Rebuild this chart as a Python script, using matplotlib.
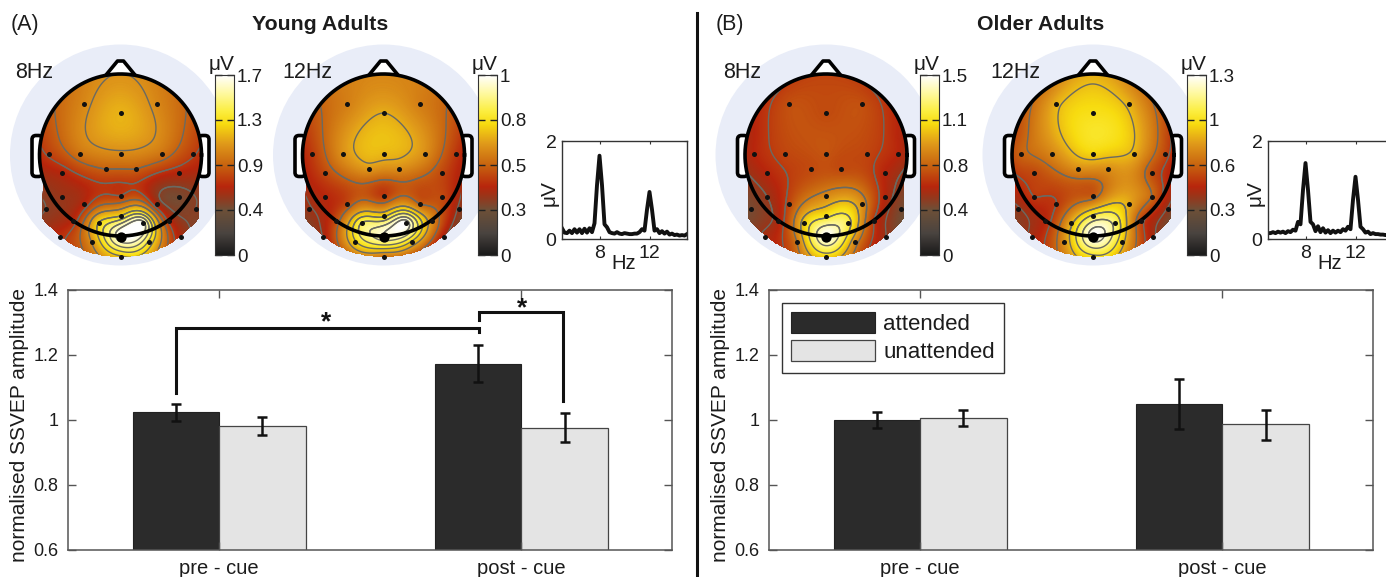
import numpy as np
import matplotlib
matplotlib.use('Agg')
import matplotlib.pyplot as plt
from matplotlib.colors import LinearSegmentedColormap
from matplotlib.patches import Circle, FancyBboxPatch, Polygon, PathPatch
from matplotlib.path import Path

plt.rcParams['font.family'] = ['Liberation Sans', 'DejaVu Sans']
W, H = 1386, 577
DARK = '#2b2b2b'
LIGHT = '#e4e4e4'
SPINE = '#555555'
TEXT = '#1c1c1c'

# ---- bar data
groups = ['pre - cue', 'post - cue']
series = ['attended', 'unattended']
young_att = [1.024, 1.172]
young_unatt = [0.979, 0.975]
young_att_hi = [1.049, 1.230]
young_att_lo = [0.996, 1.115]
young_unatt_hi = [1.007, 1.020]
young_unatt_lo = [0.953, 0.930]
older_att = [0.998, 1.049]
older_unatt = [1.004, 0.985]
older_att_hi = [1.022, 1.125]
older_att_lo = [0.975, 0.971]
older_unatt_hi = [1.028, 1.030]
older_unatt_lo = [0.981, 0.938]
y_ticks = [0.6, 0.8, 1.0, 1.2, 1.4]
y_labels = ['0.6', '0.8', '1', '1.2', '1.4']

# ---- spectra (frequency in Hz, amplitude in uV)
freq = [5.0, 5.2, 5.4, 5.6, 5.8, 6.0, 6.2, 6.4, 6.6, 6.8, 7.0, 7.2, 7.4, 7.6, 7.8, 8.0, 8.2, 8.4, 8.6, 8.8,
        9.0, 9.2, 9.4, 9.6, 9.8, 10.0, 10.2, 10.4, 10.6, 10.8, 11.0, 11.2, 11.4, 11.6, 11.8, 12.0, 12.2, 12.4,
        12.6, 12.8, 13.0, 13.2, 13.4, 13.6, 13.8, 14.0, 14.2, 14.4, 14.6, 14.8, 15.0]
young_spec = [0.22, 0.13, 0.12, 0.17, 0.12, 0.2, 0.13, 0.2, 0.12, 0.21, 0.13, 0.22, 0.14, 0.32, 1.1, 1.7, 1.1, 0.3, 0.24, 0.14,
              0.12, 0.11, 0.14, 0.11, 0.1, 0.12, 0.11, 0.1, 0.1, 0.11, 0.11, 0.14, 0.2, 0.17, 0.6, 0.96, 0.6, 0.17,
              0.2, 0.12, 0.16, 0.11, 0.15, 0.09, 0.11, 0.08, 0.09, 0.07, 0.08, 0.07, 0.1]
older_spec = [0.12, 0.12, 0.14, 0.12, 0.15, 0.13, 0.15, 0.12, 0.16, 0.14, 0.19, 0.17, 0.35, 0.3, 1.0, 1.55, 1.0, 0.35, 0.3, 0.16,
              0.26, 0.14, 0.22, 0.13, 0.18, 0.12, 0.17, 0.13, 0.17, 0.14, 0.2, 0.17, 0.25, 0.2, 0.8, 1.27, 0.8, 0.25,
              0.2, 0.13, 0.15, 0.1, 0.12, 0.1, 0.1, 0.09, 0.09, 0.08, 0.09, 0.08, 0.08]

# ---- scalp maps: electrode positions (px relative to head centre) and amplitude as fraction of the scale
elec_x = [-36.6, 36.2, 0, -72, -41, 0, 41, 72, -15, 15, -59, 58.5, -59, 0, 58.5, -36.6, 36, -75, 75,
          0, -22, 22, -48, 48, 0, -61, 60, -29, 28.5, 0]
elec_y = [-51, -51, -42, -1, -1, -1, -1, -1, 14, 14, 18, 18, 41.5, 40.5, 41.5, 49, 49, 54, 54,
          61, 67.5, 67.5, 65.5, 65.5, 81.5, 82, 82, 87, 87, 102]
edge_x = [0, -45, 45, -78, 78]
edge_y = [-78, -66, -66, -20, -20]
map_y8 = [.58, .58, .66, .43, .54, .585, .54, .43, .50, .50, .38, .38, .33, .42, .27, .38, .36, .30, .30,
          .72, .72, .98, .38, .40, 1.0, .40, .36, .60, .78, .70, .605, .55, .55, .44, .44]
map_y12 = [.56, .56, .65, .42, .60, .67, .60, .42, .62, .60, .45, .45, .38, .42, .45, .45, .50, .33, .33,
           .72, .82, 1.0, .45, .60, .95, .34, .36, .72, .72, .55, .58, .55, .55, .42, .42]
map_o8 = [.46, .46, .45, .38, .44, .47, .44, .38, .45, .45, .38, .38, .33, .58, .38, .45, .60, .27, .27,
          .75, .70, .82, .36, .42, 1.0, .35, .33, .55, .60, .72, .44, .42, .42, .36, .36]
map_o12 = [.66, .66, .74, .50, .58, .72, .66, .45, .60, .60, .45, .47, .42, .48, .52, .42, .65, .32, .32,
           .80, .65, .85, .38, .45, 1.0, .35, .35, .60, .72, .75, .66, .56, .56, .45, .42]
levels_y8 = [.30, .42, .50, .60, .72, .80, .88, .95]
levels_y12 = [.34, .50, .65, .74, .82, .90, .96]
levels_o8 = [.33, .42, .55, .66, .78, .90]
levels_o12 = [.33, .42, .52, .68, .78, .88, .96]
cbar_labels_y8 = ['0', '0.4', '0.9', '1.3', '1.7']
cbar_labels_y12 = ['0', '0.3', '0.5', '0.8', '1']
cbar_labels_o8 = ['0', '0.4', '0.8', '1.1', '1.5']
cbar_labels_o12 = ['0', '0.3', '0.6', '1', '1.3']

cmap = LinearSegmentedColormap.from_list('eeg', [
    (0.00, '#1a1a1a'), (0.12, '#4a4440'), (0.25, '#6e5038'), (0.33, '#9c3418'), (0.38, '#b8260c'),
    (0.50, '#c86410'), (0.62, '#e09a1a'), (0.73, '#f8dc10'), (0.80, '#fcee40'), (0.90, '#fff9a0'), (1.00, '#ffffff')])


def px_axes(l, t, r, b, **kw):
    return fig.add_axes([l / W, 1 - b / H, (r - l) / W, (b - t) / H], **kw)


def tps(xs, ys, vals, gx, gy):
    xs, ys, vals = map(np.asarray, (xs, ys, vals))
    def kernel(d):
        with np.errstate(divide='ignore', invalid='ignore'):
            return np.nan_to_num(d ** 2 * np.log(d))
    n = len(xs)
    K = kernel(np.hypot(xs[:, None] - xs[None], ys[:, None] - ys[None])) + np.eye(n) * 5.0
    P = np.c_[np.ones(n), xs, ys]
    A = np.block([[K, P], [P.T, np.zeros((3, 3))]])
    w = np.linalg.solve(A, np.r_[vals, 0, 0, 0])
    g = kernel(np.hypot(gx[..., None] - xs, gy[..., None] - ys)) @ w[:n]
    return g + w[n] + w[n + 1] * gx + w[n + 2] * gy


def topomap(cx, vals, levels):
    ax = px_axes(cx - 112, 43, cx + 112, 267, zorder=1)
    ax.set_xlim(-112, 112)
    ax.set_ylim(112, -112)
    ax.axis('off')
    ax.add_patch(Circle((0, 0), 110.5, fc='#e9edf8', ec='none', zorder=0))
    for s in (-1, 1):
        ax.add_patch(FancyBboxPatch((min(s * 79.5, s * 87), -18), 7.5, 38, boxstyle='round,pad=1.5,rounding_size=4',
                                    fc='white', ec='black', lw=2.6, zorder=1))
    ax.add_patch(Polygon([(-14.5, -80), (-3, -94), (3, -94), (14.5, -80)], closed=True, fc='white', ec='black',
                         lw=2.6, joinstyle='round', zorder=1))
    th = np.linspace(0, 2 * np.pi, 240)
    gx, gy = np.meshgrid(np.linspace(-82, 82, 330), np.linspace(-82, 104, 372))
    gz = tps(elec_x + edge_x, elec_y + edge_y, vals, gx, gy)
    # coloured region: head disc plus the lower neck part, each clipping its own layer
    a = np.arctan2(60, 77)
    low = np.linspace(a, np.pi - a, 60)
    outline = np.c_[81 * np.cos(th), 81 * np.sin(th)]
    neck = np.r_[[[77, 10]], np.c_[102 * np.cos(low) * 0.97, 102 * np.sin(low)], [[-77, 10]]]
    for pts in (outline, neck):
        clipper = PathPatch(Path(pts), transform=ax.transData, fc='none', ec='none')
        ax.add_patch(clipper)
        im = ax.pcolormesh(gx, gy, gz, cmap=cmap, vmin=0, vmax=1, shading='gouraud', zorder=2)
        im.set_clip_path(clipper)
        cs = ax.contour(gx, gy, gz, levels=levels, colors='#6a6a62', linewidths=1.0, zorder=3)
        cs.set_clip_path(clipper)
    ax.plot(81 * np.cos(th), 81 * np.sin(th), color='black', lw=2.6, zorder=5)
    ax.scatter(elec_x, elec_y, s=13, c='#111111', linewidths=0, zorder=6)
    ax.scatter([0], [81.5], s=55, c='black', linewidths=0, zorder=7)
    return ax


def colorbar(l, labels):
    ax = px_axes(l, 75, l + 19, 255, zorder=3)
    ax.imshow(np.linspace(1, 0, 256)[:, None], cmap=cmap, aspect='auto', extent=[0, 1, 0, 1], vmin=0, vmax=1)
    ax.set_xticks([])
    ax.set_yticks([0, .25, .5, .75, 1], labels)
    ax.yaxis.tick_right()
    ax.tick_params(axis='y', direction='in', length=5, width=1, left=True, right=True, color='#222222',
                   labelsize=13.5, pad=2, labelcolor=TEXT)
    for s in ax.spines.values():
        s.set_color('#333333')
        s.set_linewidth(0.8)
    fig.text((l + 7) / W, 1 - 64 / H, 'μV', ha='center', va='center', fontsize=15, color=TEXT, zorder=4)
    return ax


def spectrum(l, r, vals):
    ax = px_axes(l, 141, r, 239, zorder=3)
    ax.plot(freq, vals, color='#111111', lw=2.8, solid_joinstyle='round')
    ax.set_xlim(5, 15)
    ax.set_ylim(0, 2)
    ax.set_xticks([8, 12], ['8', '12'])
    ax.set_yticks([0, 2], ['0', '2'])
    ax.tick_params(direction='in', length=2, width=0.8, top=True, right=True, labelsize=14, pad=4,
                   colors='#333333', labelcolor=TEXT)
    for s in ax.spines.values():
        s.set_color('#333333')
        s.set_linewidth(1.0)
    ax.text(-0.105, 0.47, 'μV', rotation=90, transform=ax.transAxes, ha='center', va='center', fontsize=15, color=TEXT)
    ax.text(0.49, -0.245, 'Hz', transform=ax.transAxes, ha='center', va='center', fontsize=14.5, color=TEXT)
    return ax


def bars(l, r, att, unatt, att_hi, att_lo, un_hi, un_lo):
    ax = px_axes(l, 289.5, r, 549.5, zorder=2)
    x = np.arange(1, len(groups) + 1)
    w = 0.2865
    ax.bar(x - w / 2, att, w, color=DARK, edgecolor='#222222', lw=0.8, label=series[0])
    ax.bar(x + w / 2, unatt, w, color=LIGHT, edgecolor='#444444', lw=0.9, label=series[1])
    for xs, v, hi, lo in ((x - w / 2, att, att_hi, att_lo), (x + w / 2, unatt, un_hi, un_lo)):
        v, hi, lo = map(np.asarray, (v, hi, lo))
        ax.errorbar(xs, v, yerr=[v - lo, hi - v], fmt='none', ecolor='#111111', elinewidth=1.8,
                    capsize=3.5, capthick=1.8)
    ax.set_xlim(0.5, 2.5)
    ax.set_ylim(0.6, 1.4)
    ax.set_xticks(x, groups)
    ax.set_yticks(y_ticks, y_labels)
    ax.tick_params(axis='both', direction='in', length=6, width=1, top=True, right=True, color=SPINE,
                   labelcolor=TEXT)
    ax.tick_params(axis='x', pad=7, labelsize=14.5)
    ax.tick_params(axis='y', pad=7, labelsize=13)
    for s in ax.spines.values():
        s.set_color(SPINE)
        s.set_linewidth(1.1)
    ax.set_ylabel('normalised SSVEP amplitude', fontsize=15, color=TEXT)
    ax.yaxis.set_label_coords(-39 / 604.3, 0.48)
    return ax


fig = plt.figure(figsize=(W / 100, H / 100), dpi=100, facecolor='white')

topomap(120.5, map_y8, levels_y8)
topomap(383.5, map_y12, levels_y12)
topomap(826, map_o8, levels_o8)
topomap(1093, map_o12, levels_o12)
colorbar(215, cbar_labels_y8)
colorbar(478, cbar_labels_y12)
colorbar(920, cbar_labels_o8)
colorbar(1187, cbar_labels_o12)
spectrum(562, 687, young_spec)
spectrum(1268, 1393, older_spec)

axA = bars(68, 672.3, young_att, young_unatt, young_att_hi, young_att_lo, young_unatt_hi, young_unatt_lo)
axB = bars(769, 1373.3, older_att, older_unatt, older_att_hi, older_att_lo, older_unatt_hi, older_unatt_lo)

# significance brackets
axA.plot([0.858, 0.858, 1.860, 1.860], [1.083, 1.281, 1.281, 1.268], color='#111111', lw=2.2, solid_joinstyle='miter')
axA.plot([1.860, 1.860, 2.139, 2.139], [1.305, 1.332, 1.332, 1.056], color='#111111', lw=2.2, solid_joinstyle='miter')
axA.text(1.354, 1.299, '*', ha='center', va='center', fontsize=19, fontweight='bold', color='#111111')
axA.text(2.002, 1.342, '*', ha='center', va='center', fontsize=19, fontweight='bold', color='#111111')

leg = axB.legend(loc='upper left', bbox_to_anchor=(12.7 / 604.3, 1 - 13.2 / 260), borderaxespad=0, fontsize=16,
                 handlelength=3.8, handleheight=1.05, labelspacing=0.25, handletextpad=0.36, borderpad=0.42,
                 fancybox=False, framealpha=1, edgecolor='#333333', labelcolor=TEXT)
leg.get_frame().set_linewidth(1.0)

# panel text
for txt, x in (('8Hz', 34.5), ('12Hz', 307), ('8Hz', 742), ('12Hz', 1015)):
    fig.text(x / W, 1 - 72 / H, txt, ha='center', va='center', fontsize=15.5, color=TEXT, zorder=5)
fig.text(25 / W, 1 - 24.5 / H, '(A)', ha='center', va='center', fontsize=15.5, color=TEXT)
fig.text(730 / W, 1 - 24.5 / H, '(B)', ha='center', va='center', fontsize=15.5, color=TEXT)
fig.text(320.5 / W, 1 - 24 / H, 'Young Adults', ha='center', va='center', fontsize=15.3, fontweight='bold', color=TEXT)
fig.text(1040.5 / W, 1 - 24 / H, 'Older Adults', ha='center', va='center', fontsize=15.3, fontweight='bold', color=TEXT)
fig.add_artist(plt.Line2D([697 / W, 697 / W], [0, 1 - 13 / H], transform=fig.transFigure, color='#111111', lw=2.2))

fig.savefig('out.png', dpi=100)
